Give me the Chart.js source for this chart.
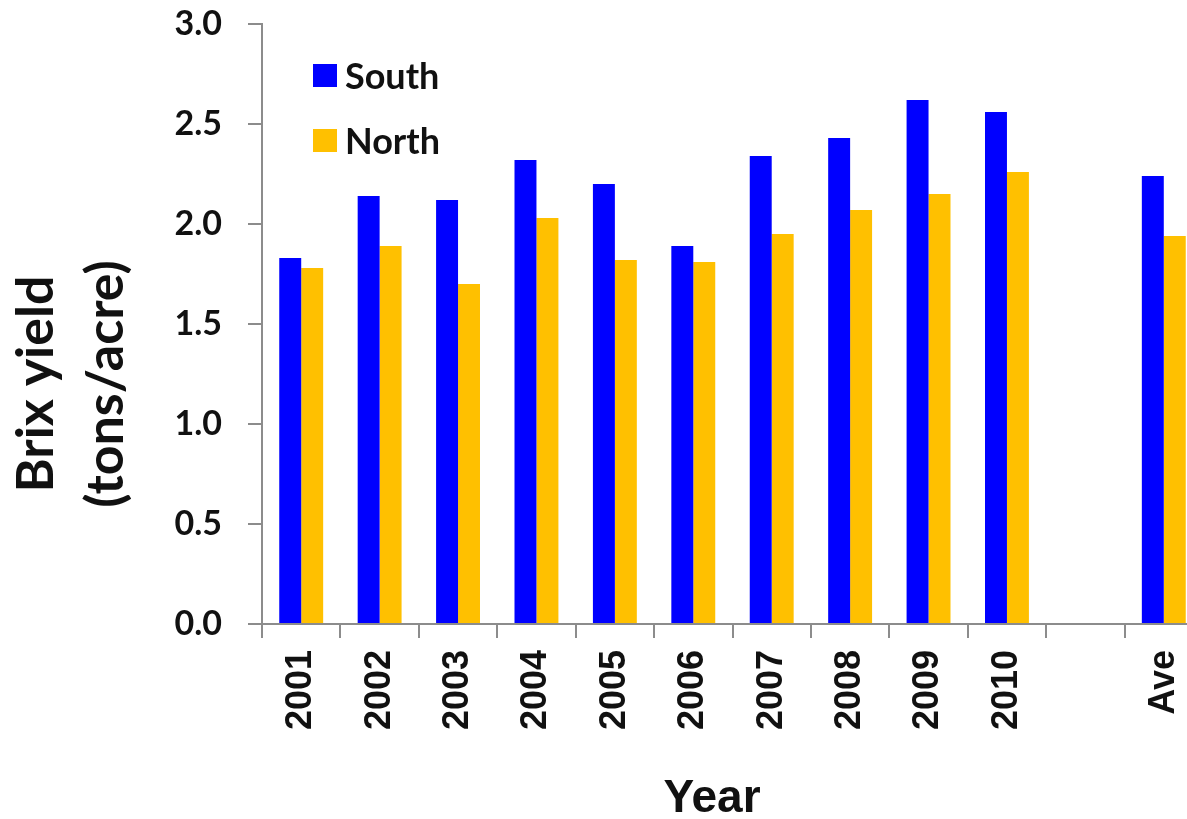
<!DOCTYPE html>
<html>
<head>
<meta charset="utf-8">
<script src="https://cdn.jsdelivr.net/npm/chart.js@4"></script>
<style>
  html, body { margin: 0; padding: 0; background: #fff; overflow: hidden; }
  #wrap { width: 1205px; height: 819px; }
</style>
</head>
<body>
<div id="wrap"><canvas id="brixChart"></canvas></div>
<script>
var years = ['2001', '2002', '2003', '2004', '2005', '2006', '2007', '2008', '2009', '2010', '', 'Ave'];
var south = [1.83, 2.14, 2.12, 2.32, 2.20, 1.89, 2.34, 2.43, 2.62, 2.56, null, 2.24];
var north = [1.78, 1.89, 1.70, 2.03, 1.82, 1.81, 1.95, 2.07, 2.15, 2.26, null, 1.94];
var yTicks = [0, 0.5, 1.0, 1.5, 2.0, 2.5, 3.0];

var axisGrey = '#8c8c8c';

// legend box stacked in the upper left of the plot
var stackedLegend = {
  id: 'stackedLegend',
  afterDraw: function (chart) {
    var ctx = chart.ctx;
    ctx.save();
    ctx.font = 'bold 36px Lato';
    ctx.textBaseline = 'middle';
    ctx.textAlign = 'left';
    chart.data.datasets.forEach(function (ds, i) {
      var top = 64 + i * 65;
      ctx.fillStyle = ds.backgroundColor;
      ctx.fillRect(313, top, 24, 23);
      ctx.fillStyle = '#111';
      ctx.fillText(ds.label, 345, top + 13);
    });
    ctx.restore();
  }
};

// axis titles
var axisTitles = {
  id: 'axisTitles',
  afterDraw: function (chart) {
    var ctx = chart.ctx;
    ctx.save();
    ctx.fillStyle = '#111';
    ctx.textAlign = 'center';
    ctx.textBaseline = 'alphabetic';
    ctx.font = 'bold 46px "Liberation Sans"';
    ctx.fillText('Year', 712, 812);

    ctx.font = 'bold 52px Lato';
    ctx.translate(0, 384);
    ctx.rotate(-Math.PI / 2);
    ctx.fillText('Brix yield', 0, 53);
    ctx.fillText('(tons/acre)', 0, 123);
    ctx.restore();
  }
};

new Chart(document.getElementById('brixChart'), {
  type: 'bar',
  data: {
    labels: years,
    datasets: [{
      label: 'South',
      data: south,
      backgroundColor: '#0000ff',
      categoryPercentage: 0.56,
      barPercentage: 1.0
    }, {
      label: 'North',
      data: north,
      backgroundColor: '#ffc000',
      categoryPercentage: 0.56,
      barPercentage: 1.0
    }]
  },
  options: {
    responsive: true,
    maintainAspectRatio: false,
    animation: false,
    layout: { padding: { top: 24, right: 2, left: 0, bottom: 0 } },
    plugins: {
      legend: { display: false },
      tooltip: { enabled: false }
    },
    scales: {
      x: {
        offset: true,
        grid: {
          offset: true,
          drawOnChartArea: false,
          tickLength: 14,
          color: axisGrey,
          lineWidth: 2
        },
        border: { color: axisGrey, width: 2 },
        ticks: {
          minRotation: 90,
          maxRotation: 90,
          padding: 12,
          color: '#111',
          font: { family: '"Liberation Sans"', weight: 'bold', size: 36 }
        },
        afterFit: function (scale) {
          scale.height = 195;
          scale.paddingLeft = 0;
          scale.paddingRight = 0;
        }
      },
      y: {
        min: 0,
        max: 3.0,
        afterBuildTicks: function (scale) {
          scale.ticks = yTicks.map(function (v) { return { value: v }; });
        },
        grid: {
          drawOnChartArea: false,
          tickLength: 14,
          color: axisGrey,
          lineWidth: 2
        },
        border: { color: axisGrey, width: 2 },
        ticks: {
          padding: 26,
          color: '#111',
          font: { family: 'Lato', weight: 'bold', size: 34 },
          callback: function (v) { return Number(v).toFixed(1); }
        },
        afterFit: function (scale) {
          scale.width = 262;
          scale.paddingTop = 0;
          scale.paddingBottom = 0;
        }
      }
    }
  },
  plugins: [stackedLegend, axisTitles]
});
</script>
</body>
</html>
